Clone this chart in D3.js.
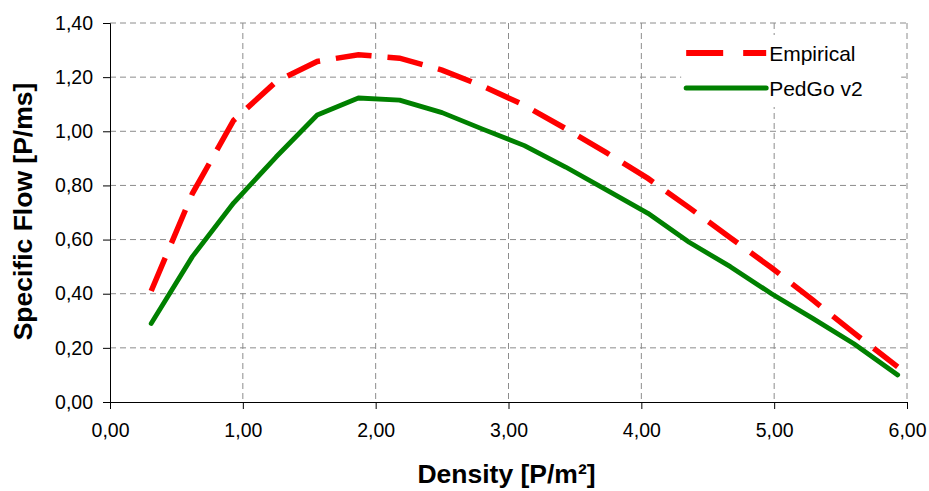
<!DOCTYPE html>
<html>
<head>
<meta charset="utf-8">
<script src="https://cdnjs.cloudflare.com/ajax/libs/d3/7.8.5/d3.min.js"></script>
<style>
    body { margin: 0; background: #fff; }
    .grid line { stroke: #8c8c8c; stroke-width: 1; stroke-dasharray: 6,4; }
    .axis path, .axis line { stroke: #000; stroke-width: 1; }
    .axis text { font-family: "Liberation Sans", Arial, sans-serif; font-size: 19.5px; fill: #000; }
    .title { font-family: "Liberation Sans", Arial, sans-serif; font-weight: bold; font-size: 26.5px; fill: #000; }
    .legend text { font-family: "Liberation Sans", Arial, sans-serif; font-size: 21px; fill: #000; }
</style>
</head>
<body>
<div id="chart"></div>
<script>
// density values (P/m2)
var density = [0.31, 0.62, 0.93, 1.25, 1.56, 1.87, 2.18, 2.50, 2.81, 3.12,
               3.43, 3.74, 4.05, 4.36, 4.67, 4.98, 5.29, 5.60, 5.93];
// specific flow, empirical curve
var empirical = [0.41, 0.77, 1.04, 1.183, 1.258, 1.283, 1.27, 1.226, 1.166, 1.096,
                 1.01, 0.92, 0.826, 0.718, 0.607, 0.496, 0.377, 0.255, 0.13];
// specific flow, PedGo v2
var pedgo = [0.29, 0.537, 0.735, 0.905, 1.06, 1.123, 1.115, 1.069, 1.007, 0.947,
             0.868, 0.783, 0.697, 0.59, 0.50, 0.40, 0.309, 0.215, 0.10];

var xTicks = [0, 1, 2, 3, 4, 5, 6];
var yTicks = [0, 0.2, 0.4, 0.6, 0.8, 1.0, 1.2, 1.4];
var seriesNames = ["Empirical", "PedGo v2"];

var margin = {top: 23, right: 22, bottom: 89, left: 110},
    width = 929 - margin.left - margin.right,
    height = 491 - margin.top - margin.bottom;

var fmt = function(v) { return d3.format(".2f")(v).replace(".", ","); };

var x = d3.scaleLinear().domain([0, 6]).range([0, width]);
var y = d3.scaleLinear().domain([0, 1.4]).range([height, 0]);

var svg = d3.select("#chart")
    .append("svg")
        .attr("width", 929)
        .attr("height", 491)
    .append("g")
        .attr("transform", "translate(" + margin.left + "," + margin.top + ")");

// grid lines
svg.append("g")
    .attr("class", "grid")
    .selectAll("line.h")
    .data(yTicks.slice(1))
    .enter().append("line")
        .attr("x1", 0)
        .attr("x2", width)
        .attr("y1", function(d) { return y(d); })
        .attr("y2", function(d) { return y(d); });

svg.append("g")
    .attr("class", "grid")
    .selectAll("line.v")
    .data(xTicks.slice(1))
    .enter().append("line")
        .attr("x1", function(d) { return x(d); })
        .attr("x2", function(d) { return x(d); })
        .attr("y1", 0)
        .attr("y2", height);

// axes
svg.append("g")
    .attr("class", "axis")
    .attr("transform", "translate(0," + height + ")")
    .call(d3.axisBottom(x).tickValues(xTicks).tickFormat(fmt).tickSizeOuter(0).tickSize(7).tickPadding(14));

svg.append("g")
    .attr("class", "axis")
    .call(d3.axisLeft(y).tickValues(yTicks).tickFormat(fmt).tickSizeOuter(0).tickSize(7).tickPadding(10));

// the two lines
var line = d3.line()
    .x(function(d) { return x(d[0]); })
    .y(function(d) { return y(d[1]); });

svg.append("path")
    .datum(d3.zip(density, empirical))
    .attr("fill", "none")
    .attr("stroke", "#ff0000")
    .attr("stroke-width", 5.5)
    .attr("stroke-dasharray", "36,16")
    .attr("d", line);

svg.append("path")
    .datum(d3.zip(density, pedgo))
    .attr("fill", "none")
    .attr("stroke", "#008000")
    .attr("stroke-width", 4.8)
    .attr("stroke-linejoin", "round")
    .attr("stroke-linecap", "round")
    .attr("d", line);

// legend
var legend = svg.append("g")
    .attr("class", "legend")
    .attr("transform", "translate(" + (x(4.3)) + "," + 12 + ")");

legend.append("rect")
    .attr("x", 0)
    .attr("y", 0)
    .attr("width", 220)
    .attr("height", 72)
    .attr("fill", "#fff");

var colors = ["#ff0000", "#008000"];
seriesNames.forEach(function(name, i) {
    var ly = 18 + i * 35;
    legend.append("line")
        .attr("x1", 5)
        .attr("x2", 85)
        .attr("y1", ly)
        .attr("y2", ly)
        .attr("stroke", colors[i])
        .attr("stroke-width", i == 0 ? 6 : 5)
        .attr("stroke-dasharray", i == 0 ? "37,20" : null)
        .attr("stroke-linecap", i == 0 ? "butt" : "round");
    legend.append("text")
        .attr("x", 88)
        .attr("y", ly + 8)
        .text(name);
});

// axis titles
svg.append("text")
    .attr("class", "title")
    .attr("text-anchor", "middle")
    .attr("x", x(3) - 2)
    .attr("y", height + 81)
    .text("Density [P/m²]");

svg.append("text")
    .attr("class", "title")
    .attr("text-anchor", "middle")
    .attr("transform", "translate(" + (-78) + "," + (height / 2 - 1) + ") rotate(-90)")
    .text("Specific Flow [P/ms]");
</script>
</body>
</html>
